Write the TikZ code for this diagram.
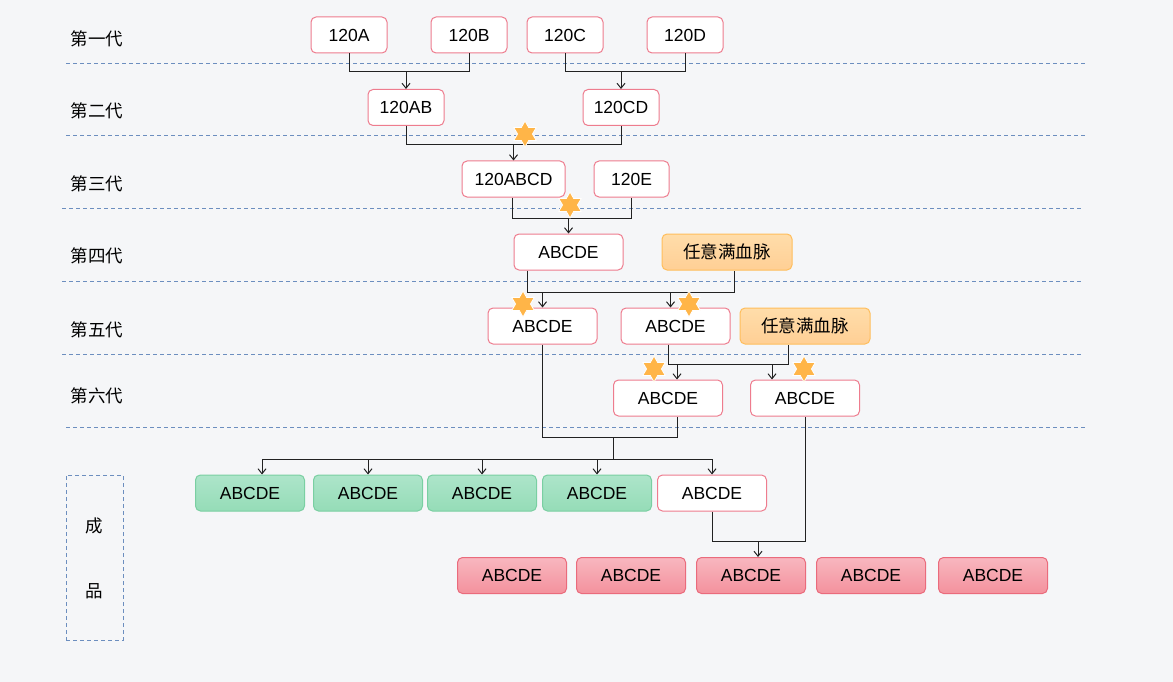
\documentclass[tikz,border=0pt]{standalone}
\usepackage{fontspec}
\setmainfont{Liberation Sans}
\newfontfamily\cjk{Noto Sans CJK SC}
\usetikzlibrary{arrows.meta,shapes.geometric,calc}
\definecolor{bg}{HTML}{F5F6F8}
\definecolor{dashblue}{HTML}{6C8EBF}
\definecolor{pinkline}{HTML}{EE7C8E}
\definecolor{ortop}{HTML}{FFDDAA}
\definecolor{orbot}{HTML}{FFCF95}
\definecolor{orline}{HTML}{FFBE5C}
\definecolor{grtop}{HTML}{ADE5CA}
\definecolor{grbot}{HTML}{95DCB7}
\definecolor{grline}{HTML}{7ACFA2}
\definecolor{rdtop}{HTML}{F8B7BF}
\definecolor{rdbot}{HTML}{F4919D}
\definecolor{rdline}{HTML}{EA6B7C}
\definecolor{starfill}{HTML}{FFB548}
\definecolor{lncol}{HTML}{222222}
\begin{document}
\begin{tikzpicture}[x=1pt,y=-1pt,
  txt/.style={font=\fontsize{17.5}{20}\selectfont, text=black},
  box/.style={txt, rounded corners=5pt, line width=1pt, inner sep=0pt, minimum height=36pt},
  whitebox/.style={box, draw=pinkline, fill=white, minimum width=109pt},
  gbox/.style={whitebox, minimum width=76pt},
  orbox/.style={box, draw=orline, top color=ortop, bottom color=orbot, minimum width=130pt, font=\cjk\fontsize{17.5}{20}\selectfont},
  grbox/.style={box, draw=grline, top color=grtop, bottom color=grbot, minimum width=109pt},
  rdbox/.style={box, draw=rdline, top color=rdtop, bottom color=rdbot, minimum width=109pt},
  rowlabel/.style={font=\cjk\fontsize{17.5}{20}\selectfont, text=black, inner sep=0pt},
  sep/.style={draw=dashblue, line width=1pt, dash pattern=on 4pt off 3pt},
  ln/.style={draw=lncol, line width=1pt},
  arr/.style={ln, -{Straight Barb[length=5pt,width=8pt,line width=1pt]}},
  starnode/.style={star, star points=6, star point ratio=1.75, minimum size=26pt, inner sep=0pt, fill=starfill, draw=white, line width=0.8pt}
]
\useasboundingbox (0,0) rectangle (1173,682);
\fill[bg] (0,0) rectangle (1173,682);

% separators
\coordinate (d1a) at (66,64);  \coordinate (d1b) at (1085,64);
\coordinate (d2a) at (66,136); \coordinate (d2b) at (1085,136);
\coordinate (d3a) at (62,208); \coordinate (d3b) at (1082,208);
\coordinate (d4a) at (62,281); \coordinate (d4b) at (1082,281);
\coordinate (d5a) at (62,354); \coordinate (d5b) at (1082,354);
\coordinate (d6a) at (66,427); \coordinate (d6b) at (1085,427);
\draw[sep] (d1a) -- (d1b);
\draw[sep] (d2a) -- (d2b);
\draw[sep] (d3a) -- (d3b);
\draw[sep] (d4a) -- (d4b);
\draw[sep] (d5a) -- (d5b);
\draw[sep] (d6a) -- (d6b);

% row labels
\node[rowlabel] (L1) at (97,39) {第一代};
\node[rowlabel] (L2) at (97,111) {第二代};
\node[rowlabel] (L3) at (97,184) {第三代};
\node[rowlabel] (L4) at (97,256) {第四代};
\node[rowlabel] (L5) at (97,330) {第五代};
\node[rowlabel] (L6) at (97,396) {第六代};

% product box
\node[draw=dashblue, line width=1pt, dash pattern=on 4pt off 3pt, minimum width=57pt, minimum height=165pt, inner sep=0pt] (CP) at (94.5,557.5) {};
\node[rowlabel] (CP1) at (94,526) {成};
\node[rowlabel] (CP2) at (94,591) {品};

% row 1
\node[gbox] (A) at (349,35) {120A};
\node[gbox] (B) at (469,35) {120B};
\node[gbox] (C) at (565,35) {120C};
\node[gbox] (D) at (685,35) {120D};
% row 2
\node[gbox] (AB) at (406,107.5) {120AB};
\node[gbox] (CD) at (621,107.5) {120CD};
% row 3
\node[gbox, minimum width=103pt] (ABCD) at (513.5,179) {120ABCD};
\node[gbox, minimum width=75pt] (E) at (631.5,179) {120E};
% row 4
\node[whitebox] (R4) at (568.5,252) {ABCDE};
\node[orbox] (O4) at (727,252) {任意满血脉};
% row 5
\node[whitebox] (R5a) at (542.5,326) {ABCDE};
\node[whitebox] (R5b) at (675.5,326) {ABCDE};
\node[orbox] (O5) at (805,326) {任意满血脉};
% row 6
\node[whitebox] (R6a) at (668,398) {ABCDE};
\node[whitebox] (R6b) at (805,398) {ABCDE};
% row 7
\node[grbox] (G1) at (250,493) {ABCDE};
\node[grbox] (G2) at (368,493) {ABCDE};
\node[grbox] (G3) at (482,493) {ABCDE};
\node[grbox] (G4) at (597,493) {ABCDE};
\node[whitebox] (W7) at (712,493) {ABCDE};
% row 8
\node[rdbox] (P1) at (512,575.5) {ABCDE};
\node[rdbox] (P2) at (631,575.5) {ABCDE};
\node[rdbox] (P3) at (751,575.5) {ABCDE};
\node[rdbox] (P4) at (871,575.5) {ABCDE};
\node[rdbox] (P5) at (993,575.5) {ABCDE};

% levels
\coordinate (y1) at (0,72);
\coordinate (y2) at (0,145);
\coordinate (y3) at (0,218);
\coordinate (y4) at (0,292);
\coordinate (y5) at (0,364);
\coordinate (y6) at (0,437);
\coordinate (y7) at (0,459);
\coordinate (y8) at (0,541);
\coordinate (j1) at (613,437);

% connectors
\draw[ln] (A.south) |- (B.south |- y1) -- (B.south);
\draw[arr] (AB.north |- y1) -- (AB.north);
\draw[ln] (C.south) |- (D.south |- y1) -- (D.south);
\draw[arr] (CD.north |- y1) -- (CD.north);

\draw[ln] (AB.south) |- (CD.south |- y2) -- (CD.south);
\draw[arr] (ABCD.north |- y2) -- (ABCD.north);

\draw[ln] ([xshift=-1pt]ABCD.south) |- (E.south |- y3) -- (E.south);
\draw[arr] (R4.north |- y3) -- (R4.north);

\draw[ln] ([xshift=-41pt]R4.south) |- ([xshift=7pt]O4.south |- y4) -- ([xshift=7pt]O4.south);
\draw[arr] (R5a.north |- y4) -- (R5a.north);
\draw[arr] ([xshift=-5pt]R5b.north |- y4) -- ([xshift=-5pt]R5b.north);

\draw[ln] ([xshift=-7pt]R5b.south) |- ([xshift=-17pt]O5.south |- y5) -- ([xshift=-17pt]O5.south);
\draw[arr] ([xshift=9pt]R6a.north |- y5) -- ([xshift=9pt]R6a.north);
\draw[arr] ([xshift=-33pt]R6b.north |- y5) -- ([xshift=-33pt]R6b.north);

\draw[ln] (R5a.south) |- ([xshift=9pt]R6a.south |- y6) -- ([xshift=9pt]R6a.south);
\draw[ln] (j1) -- (j1 |- y7);
\draw[ln] ([xshift=12pt]G1.north |- y7) -- (W7.north |- y7);
\draw[arr] ([xshift=12pt]G1.north |- y7) -- ([xshift=12pt]G1.north);
\draw[arr] (G2.north |- y7) -- (G2.north);
\draw[arr] (G3.north |- y7) -- (G3.north);
\draw[arr] (G4.north |- y7) -- (G4.north);
\draw[arr] (W7.north |- y7) -- (W7.north);

\draw[ln] (W7.south) |- (R6b.south |- y8) -- (R6b.south);
\draw[arr] ([xshift=7pt]P3.north |- y8) -- ([xshift=7pt]P3.north);

% stars
\node[starnode] (S1) at (525,134) {};
\node[starnode] (S2) at (570,205) {};
\node[starnode] (S3) at (523,304) {};
\node[starnode] (S4) at (689,304) {};
\node[starnode] (S5) at (654,369) {};
\node[starnode] (S6) at (804,369) {};
\end{tikzpicture}
\end{document}
